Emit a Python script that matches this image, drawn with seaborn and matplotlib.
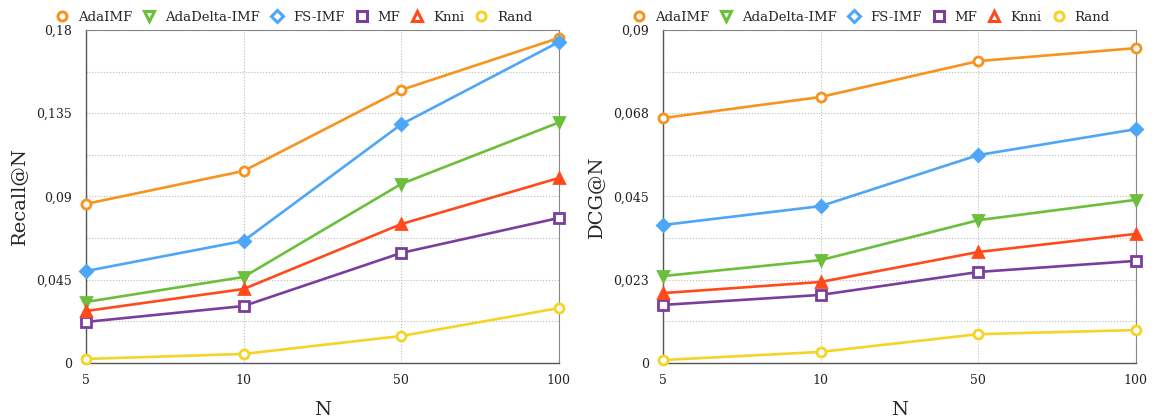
import matplotlib
matplotlib.use("Agg")
import matplotlib.pyplot as plt
import seaborn as sns
import pandas as pd
import numpy as np

# ---- data ----
n_labels = ["5", "10", "50", "100"]
methods = ["AdaIMF", "AdaDelta-IMF", "FS-IMF", "MF", "Knni", "Rand"]

recall_adaimf = [0.086, 0.1038, 0.1476, 0.1757]
recall_adadelta = [0.033, 0.0465, 0.0968, 0.130]
recall_fsimf = [0.0497, 0.066, 0.129, 0.1735]
recall_mf = [0.0222, 0.0308, 0.0595, 0.0784]
recall_knni = [0.0281, 0.040, 0.0751, 0.100]
recall_rand = [0.0022, 0.0049, 0.0146, 0.0297]

dcg_adaimf = [0.0662, 0.0719, 0.0816, 0.0851]
dcg_adadelta = [0.0235, 0.0278, 0.0386, 0.0441]
dcg_fsimf = [0.0373, 0.0424, 0.0562, 0.0632]
dcg_mf = [0.0157, 0.0184, 0.0246, 0.0276]
dcg_knni = [0.0189, 0.0219, 0.0300, 0.0349]
dcg_rand = [0.0008, 0.0030, 0.0078, 0.0089]

recall_ticks = ["0", "0,045", "0,09", "0,135", "0,18"]
dcg_ticks = ["0", "0,023", "0,045", "0,068", "0,09"]

colors = {"AdaIMF": "#f7931e", "AdaDelta-IMF": "#6cbf3a", "FS-IMF": "#4ea6f7",
          "MF": "#7a3f9d", "Knni": "#ff4a1c", "Rand": "#f5d327"}
markers = {"AdaIMF": "o", "AdaDelta-IMF": "v", "FS-IMF": "D", "MF": "s",
           "Knni": "^", "Rand": "o"}
filled = {"AdaIMF": False, "AdaDelta-IMF": True, "FS-IMF": True, "MF": False,
          "Knni": True, "Rand": False}
msizes = {"AdaIMF": 6.5, "AdaDelta-IMF": 7.5, "FS-IMF": 6.5, "MF": 6.5, "Knni": 7.5, "Rand": 6.5}

sns.set_theme(style="white")
plt.rcParams["font.family"] = ["DejaVu Serif"]

fig = plt.figure(figsize=(11.59, 4.2), dpi=100)
ax1 = fig.add_axes([0.0742, 0.1357, 0.408, 0.7929])
ax2 = fig.add_axes([0.5721, 0.1357, 0.408, 0.7929])

def draw(ax, series, ymax, ticklabels, ylabel):
    xs = np.arange(len(n_labels))
    handles = []
    for m in methods:
        df = pd.DataFrame({"x": xs, "y": series[m]})
        c = colors[m]
        sns.lineplot(data=df, x="x", y="y", ax=ax, color=c, lw=1.9,
                     marker=markers[m], markersize=msizes[m],
                     markerfacecolor=(c if filled[m] else "white"),
                     markeredgecolor=c, markeredgewidth=2, zorder=3,
                     clip_on=False)
        handles.append(plt.Line2D([], [], color=c, lw=0, marker=markers[m],
                                  markersize=6.5, markerfacecolor="white",
                                  markeredgecolor=c, markeredgewidth=2.2))
    ax.set_xlim(0, len(n_labels) - 1)
    ax.set_ylim(0, ymax)
    ax.set_xticks(xs)
    ax.set_xticklabels(n_labels, fontsize=9)
    major = np.linspace(0, ymax, 5)
    ax.set_yticks(major)
    ax.set_yticklabels(ticklabels, fontsize=9)
    ax.set_yticks(np.linspace(0, ymax, 9), minor=True)
    ax.grid(True, which="both", axis="y", color="#bbbbbb", ls=":", lw=0.8)
    ax.grid(True, which="major", axis="x", color="#bbbbbb", ls=":", lw=0.8)
    ax.tick_params(axis="both", which="both", length=0, colors="#222222")
    ax.tick_params(axis="y", pad=10)
    ax.tick_params(axis="x", pad=8)
    ax.set_xlabel("N", fontsize=14, labelpad=10)
    ax.set_ylabel(ylabel, fontsize=14, labelpad=6)
    for s in ["left", "bottom"]:
        ax.spines[s].set_color("#555555")
        ax.spines[s].set_linewidth(1.0)
    for s in ["top", "right"]:
        ax.spines[s].set_color("#888888")
        ax.spines[s].set_linewidth(0.8)
    ax.legend(handles, methods, loc="lower center",
              bbox_to_anchor=(0.44, 0.995), ncol=6, frameon=False,
              fontsize=9.5, handlelength=1.0, handletextpad=0.7,
              columnspacing=0.8, borderaxespad=0.2)

draw(ax1, {"AdaIMF": recall_adaimf, "AdaDelta-IMF": recall_adadelta,
           "FS-IMF": recall_fsimf, "MF": recall_mf, "Knni": recall_knni,
           "Rand": recall_rand}, 0.18, recall_ticks, "Recall@N")
draw(ax2, {"AdaIMF": dcg_adaimf, "AdaDelta-IMF": dcg_adadelta,
           "FS-IMF": dcg_fsimf, "MF": dcg_mf, "Knni": dcg_knni,
           "Rand": dcg_rand}, 0.09, dcg_ticks, "DCG@N")

fig.savefig("out.png", dpi=100)
